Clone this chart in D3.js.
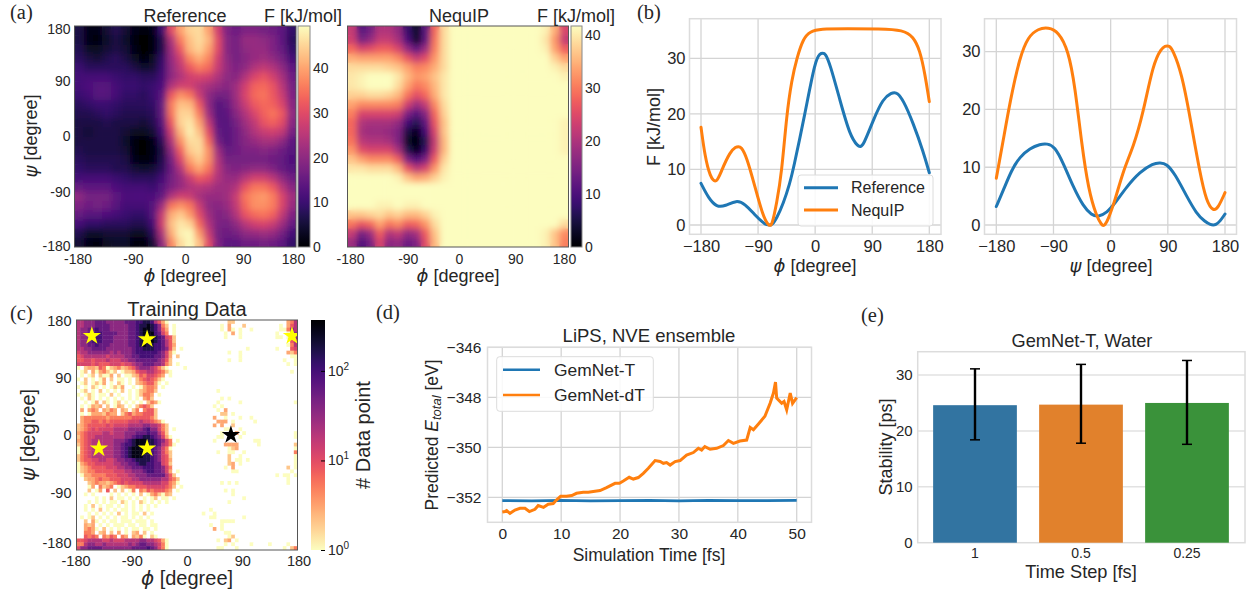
<!DOCTYPE html>
<html>
<head>
<meta charset="utf-8">
<script src="https://cdn.jsdelivr.net/npm/d3@7"></script>
<style>
  html, body { margin: 0; padding: 0; background: #fff; }
  svg { display: block; }
  text { font-family: "Liberation Sans", Arial, sans-serif; fill: #262626; }
  .domain { display: none; }
</style>
</head>
<body>
<div id="chart"></div>
<script>
// ---- data ----

// (a) free energy [kJ/mol], rows from psi = 180 down to -180, columns phi -180 to 180
const referenceF = [
  [6,2,2,5,7,5,2,1,2,10,30,40,45,46,40,28,18,16,18,18,17,16,14,9],
  [6,2,1,4,6,4,1,0,1,7,24,36,43,46,42,30,19,17,21,21,20,18,14,8],
  [7,3,3,5,6,5,2,0,1,7,22,32,42,45,40,30,19,17,20,21,21,18,15,9],
  [8,6,5,7,8,6,3,1,3,9,21,28,37,41,37,28,20,17,19,21,22,20,17,11],
  [10,8,8,8,8,8,6,4,5,10,20,26,32,36,34,27,21,18,20,24,26,24,20,14],
  [11,11,11,11,10,9,9,8,8,11,20,24,28,29,28,24,20,19,24,29,31,28,23,16],
  [11,12,13,13,11,10,10,9,10,12,24,28,28,25,23,21,19,22,28,33,34,31,25,17],
  [10,11,13,13,11,9,9,8,10,14,32,38,35,27,20,17,17,22,29,34,35,32,27,18],
  [8,9,10,10,9,8,8,8,9,15,36,43,42,32,20,13,15,21,27,32,34,33,29,19],
  [7,7,8,9,8,7,7,7,8,15,35,45,45,36,22,13,14,19,24,29,33,35,32,20],
  [6,6,6,7,6,6,6,5,7,13,32,45,47,40,26,14,13,17,22,26,31,33,30,19],
  [6,5,6,6,6,5,3,3,5,11,28,42,48,43,30,15,13,16,20,24,27,28,26,17],
  [6,6,6,6,6,4,1,0,2,8,24,38,46,46,34,17,13,16,19,21,23,23,20,14],
  [7,6,6,6,6,5,1,0,2,6,20,33,44,46,38,22,15,16,18,18,19,18,16,13],
  [8,7,7,7,7,6,2,1,2,7,17,29,40,44,38,24,17,17,17,17,17,16,15,12],
  [9,8,8,8,7,7,5,4,5,8,16,24,35,40,35,25,19,18,19,20,20,18,15,13],
  [11,11,11,11,10,9,8,8,8,11,17,21,27,32,30,24,21,21,25,28,28,25,20,16],
  [15,14,14,14,12,11,11,11,10,13,18,21,24,25,24,22,22,24,31,35,35,32,25,19],
  [20,17,17,17,14,12,12,12,12,15,24,28,27,23,21,21,22,27,35,38,39,36,29,22],
  [18,16,17,16,13,11,11,11,13,22,35,38,35,27,20,19,21,26,34,38,38,36,29,21],
  [15,13,13,12,11,10,9,9,13,27,41,44,39,30,22,18,19,24,31,34,35,33,26,18],
  [11,9,9,8,8,8,7,7,11,28,43,47,45,34,24,18,17,20,25,28,29,27,22,15],
  [7,4,4,5,5,5,3,3,8,24,41,48,49,39,27,17,16,17,20,21,22,21,17,11],
  [5,2,1,3,4,4,1,1,5,20,37,46,49,43,30,18,14,14,16,16,17,16,14,9]
]
const nequipF = [
  [22,11,14,20,20,17,8,3,11,28,38,41,41,41,41,41,41,41,41,41,41,40,34,24],
  [23,14,17,22,22,19,10,3,12,29,38,41,41,41,41,41,41,41,41,41,41,39,32,22],
  [28,24,25,27,27,24,17,12,18,30,38,41,41,41,41,41,41,41,41,41,41,40,33,27],
  [34,33,33,33,33,31,26,22,25,32,38,41,41,41,41,41,41,41,41,41,41,41,37,33],
  [38,38,38,38,37,36,33,30,31,34,38,41,41,41,41,41,41,41,41,41,41,41,40,38],
  [39,40,41,41,41,39,35,32,33,36,39,41,41,41,41,41,41,41,41,41,41,41,41,40],
  [39,40,41,41,41,38,33,29,31,35,39,41,41,41,41,41,41,41,41,41,41,41,41,41],
  [37,37,38,38,37,35,29,25,28,34,39,41,41,41,41,41,41,41,41,41,41,41,41,41],
  [33,31,31,31,31,30,23,18,22,31,38,41,41,41,41,41,41,41,41,41,41,41,41,41],
  [30,24,24,24,24,23,15,11,16,28,37,41,41,41,41,41,41,41,41,41,41,41,41,41],
  [28,20,19,19,19,17,9,6,12,26,36,41,41,41,41,41,41,41,41,41,41,41,41,40],
  [28,19,18,18,17,15,5,2,9,24,36,41,41,41,41,41,41,41,41,41,41,41,41,40],
  [29,21,20,20,19,15,3,0,6,22,35,41,41,41,41,41,41,41,41,41,41,41,41,40],
  [32,25,24,24,24,19,6,2,8,23,35,41,41,41,41,41,41,41,41,41,41,41,41,40],
  [36,33,31,31,31,27,15,10,15,27,37,41,41,41,41,41,41,41,41,41,41,41,41,41],
  [39,39,38,38,38,35,26,21,24,32,39,41,41,41,41,41,41,41,41,41,41,41,41,41],
  [41,41,41,41,41,40,36,33,34,37,40,41,41,41,41,41,41,41,41,41,41,41,41,41],
  [41,41,41,41,41,41,41,41,41,41,41,41,41,41,41,41,41,41,41,41,41,41,41,41],
  [41,41,41,41,41,41,41,41,41,41,41,41,41,41,41,41,41,41,41,41,41,41,41,41],
  [41,41,41,40,40,41,40,40,41,41,41,41,41,41,41,41,41,41,41,41,41,41,41,41],
  [36,36,37,38,36,37,35,35,37,40,41,41,41,41,41,41,41,41,41,41,41,41,41,41],
  [29,26,28,33,29,31,27,28,32,38,41,41,41,41,41,41,41,41,41,41,41,41,41,38],
  [22,14,18,27,20,22,17,19,27,36,41,41,41,41,41,41,41,41,41,41,41,40,36,31],
  [18,10,14,24,16,17,13,15,25,35,41,41,41,41,41,41,41,41,41,41,41,40,36,30]
]
const phiTicks = [-180, -90, 0, 90, 180]
const psiTicks = [180, 90, 0, -90, -180]
const refBarTicks = [0, 10, 20, 30, 40]

// (b) one dimensional profiles
const phiRefX = [-180,-168,-155,-142,-124,-110.6,-95,-82,-76,-72,-68,-60.7,-50,-40,-34.5,-16,0,8,12,16,23.4,39,55,68,71,76,91.7,107,121,125,129,139,154.7,170.5,180]
const phiRefY = [7.5,4.8,3.2,3.4,4.5,3.8,1.8,0.4,0,0,0,1.2,3.9,7.5,10,20,29.7,30.9,30.9,30.9,29,22.5,16,14.1,14.1,14.3,18.9,22.8,23.8,23.8,23.8,22.5,18.3,13.2,9.4]
const phiNeqX = [-180,-173.7,-165.8,-156,-147.4,-134,-125,-121,-117,-108,-95,-82,-74,-71,-68,-60.7,-52.8,-45,-37,-29,-18.7,-8,7.6,49.6,102,139,154.7,165,173,180]
const phiNeqY = [17.6,12.3,8.7,7.3,9.9,13.2,14.1,14.1,14.1,12.3,6.9,1.5,0,-0.1,0,3.9,9.3,19.8,26.1,30,33.6,34.8,35.3,35.3,35.3,35.1,33.9,31.5,27.3,22.2]
const psiRefX = [-180,-169,-156,-143,-127,-111,-100,-88,-74.5,-59,-43,-30,-19.5,-6,7,25,46,67,78,88,101,120,135,148,158,161.5,165,172,180]
const psiRefY = [3.2,6,9.5,11.8,13.3,14,14.1,13.6,10.7,6.6,3.2,1.7,1.4,2.1,3.8,6.6,9.2,10.7,10.8,10.6,8.9,4.9,2,0.6,0,0,0,0.6,1.9]
const psiNeqX = [-180,-169,-158,-143,-130,-114,-98,-82.4,-66.7,-56,-45.7,-35,-22,-14,-11.6,-9,-4,7,20,36,51,67,80,86,89,92,98,111.7,124.8,140.6,151,161.5,169,180]
const psiNeqY = [8.1,14.7,21.6,29.1,32.6,34,34.2,33.5,30.3,23.9,14.1,6.1,1.4,0,-0.1,0,0.9,4.3,9.5,13.6,19.3,28,30.6,31,31,31,30.3,26.3,18.8,8.9,4,2.4,2.9,5.6]
const profileNames = ['Reference', 'NequIP']

// (c) training histogram, one character per 6 degree bin, split in phi < 0 and phi > 0
const countCodes = '.123456789abc'
const countValues = [0, 1, 2, 3, 5, 8, 12, 20, 35, 60, 100, 170, 300]
const trainLeft = [
  '7788899988888999aabba7531.....','7788899998888899abbcba842.1...','78899a9998888899abccba853.1...',
  '78899aa999988899abccca964.1...','7889aaa999888899abcccba9652...','7889aaa999888899abcccba9752...',
  '78899a9998888899abcbbaa9753...','7788999988888889aabbbaa9852.1.','6778888887878889aaaaaa98631...',
  '56777777677778899aaaa99863.2..','55665666766677889999998752....','66665655566656678899988742.1..',
  '1.23325412342345788876421....1','.12.3134212.12235667765421....','.1.12.2113.2.11235466543.1....',
  '1.2.1.13.2.11.1.24565421......','.12.1213.1.21.1.2345531.1.....','1.1.21.1.1213..1.13443.1......',
  '.12.1.2.1.1.2.1.123442........','1.121.11.2.1..1.12443.1.......','.1.21.1.1.1.1.1.1.342.........',
  '..1.13.21.12.1.1.1.2431.......','.1.1323.2.132.1.24542.........','.3.343.3243.32.24.4552........',
  '.1.13332433.2453445552........','.344444434444445555542........','.34455454555556667665431......',
  '2345555565666677778877642.....','2345656666777788889a88642.1...','3456666776777888999a99752.....',
  '2456677777777889aabba98631....','34567777778889abcccbba9864.1..','2456777777889aabcccbba97641...',
  '1456777777889abccccba98641....','1456777777889abccccba98642....','2456777777889abcccbba98652....',
  '245566776678899abbbba98653....','1345566666778899abbaa99652....','123455556667788999aaa99864....',
  '1234455555666778889aa99863.1..','.13344445556667788899999752...','..23345445556667788888877542..',
  '...2343323456566667777766431..','...13.4234.1234455566666542.1.','...2.13.5.2.2.14.435455543.1..',
  '..1.1....1.1.1.1.2.1342132....','.....1.1.2.11.1.1.1.12.11.1...','...1.1.1.11.21.1.21.1.1.1.....',
  '..1.2.1.11.1.1.1.1.1.1........','..1.1.2.1.1.11.1.1.1..........','...1.1.1.1.2.1.11.2.1.........',
  '.1.12.1.1.1.11.1.1.1..........','..2.31.1.11.111.111.1.........','..323.1.1.111.11.11.11........',
  '..3431.2.1.1.1.11.11.1........','..443.23.2.3.1.23.2.1.........','..5454.4354.43.3241.21........',
  '5567777667666777788776531.....','4478877877777787899887641.....','6889999888888889999a98641.....'
]
const trainRight = [
  '...........22..............347','.........1.3...2.........1.357','.........1.31.1..1.......11487',
  '..........1.3.1.........1..188','..........1...1.........11.188','............................57',
  '...........................147','................1.......1...56','...........1..1............324',
  '..............1.............11','...........1..1...........1..1','...........................1.1',
  '..............................','............................1.','..............................',
  '..............................','..............................','..............................',
  '........1.....................','..............................','.........1.1..................',
  '........1.....1..............1','.......1.1....................','........1.3...................',
  '.........22.1.................','.......3..1...1..1............','........333.1.....1...........',
  '.......3.3..2.................','..........11..1...............','.........1...3.1.............1',
  '........11....1..............1','.......1..........11..........','..........3333.....1.........2',
  '...........123...............1','........1..11..1.............4','...........2..1..............1',
  '...........2.11.1............1','...........23.1..............1','..........1.3..............2.1',
  '............11..............1.','........................1.11.1','...........................1..',
  '.........1.1.1.............1..','..............................','..........1.1.................',
  '............1.................','...............1..............','...........1..................',
  '..............................','......1.......................','....1..1......................',
  '......11.......1..............','.........1111.................','......1..1....................',
  '.......3.1....................','..........11..................','...........12.................',
  '........1.23.1................','..........1.1....1....1....1..','........11...1............1.24'
]
const starPhi = [-155, -65, 171, -143.5, -65, 71.5]
const starPsi = [155, 150, 155, -21, -21, 0]
const starFill = ['#ffff00', '#ffff00', '#ffff00', '#ffff00', '#ffff00', '#000000']

// (d) total energy during the simulation
const dtTime = [0,0.45,0.74,1.3,2.15,3,3.85,4.6,5.55,6.1,7,7.8,8.65,9.2,9.9,10.9,11.8,12.6,13.75,14.6,15.45,16.6,17.7,19.15,19.9,20.55,21.55,22.25,23.1,23.95,24.8,25.95,26.8,27.35,27.9,28.5,29.35,30.2,31.3,32.45,33.3,33.85,34.4,35.3,36.4,37.55,38.4,39.25,40.35,41.5,42.1,42.65,43.5,44.6,45.5,46.05,46.4,46.6,47.45,47.85,48.3,48.9,49.3,50]
const dtEnergy = [-352.59,-352.57,-352.53,-352.64,-352.51,-352.44,-352.44,-352.57,-352.48,-352.33,-352.4,-352.28,-352.25,-352.11,-351.96,-351.96,-351.93,-351.84,-351.8,-351.8,-351.77,-351.73,-351.61,-351.44,-351.44,-351.35,-351.2,-351.27,-351.21,-351.04,-350.84,-350.53,-350.57,-350.64,-350.61,-350.71,-350.57,-350.53,-350.31,-350.21,-350.04,-350.11,-349.97,-350.08,-350.04,-349.93,-349.73,-349.84,-349.75,-349.71,-349.21,-349.3,-349.07,-348.76,-348.23,-347.83,-347.39,-348.03,-348.24,-348.17,-348.5,-347.83,-348.24,-348.01]
const tTime = [0,5,10,15,20,25,30,35,40,45,50]
const tEnergy = [-352.13,-352.14,-352.12,-352.14,-352.13,-352.12,-352.14,-352.12,-352.13,-352.13,-352.12]
const timeTicks = [0, 10, 20, 30, 40, 50]
const energyTicks = [-346, -348, -350, -352]
const energyNames = ['GemNet-T', 'GemNet-dT']

// (e) stability against time step
const stepNames = ['1', '0.5', '0.25']
const stability = [24.6, 24.7, 25]
const stabilityLow = [18.4, 17.8, 17.6]
const stabilityHigh = [31.1, 31.9, 32.6]
const barColors = ['#3274a1', '#e1812c', '#3a923a']

const blue = '#1f77b4'
const orange = '#ff7f0e'
const gridColor = '#d4d4d4'

const svg = d3.select('#chart').append('svg').attr('width', 1250).attr('height', 595)
const defs = svg.append('defs')

// the heat maps are a bit soft in the original
defs.append('filter').attr('id', 'soft')
  .attr('x', '-5%').attr('y', '-5%').attr('width', '110%').attr('height', '110%')
  .append('feGaussianBlur').attr('stdDeviation', 3.4)

const phiLabel = '<tspan font-family="DejaVu Sans" font-style="italic">ϕ</tspan> [degree]'
const psiLabel = '<tspan font-family="DejaVu Sans" font-style="italic">ψ</tspan> [degree]'
const signed = d => d3.format('d')(d).replace('−', '-')  // panels a and c use a plain hyphen

function label(x, y, html, size, anchor) {
  return svg.append('text').attr('x', x).attr('y', y)
    .attr('font-size', size).attr('text-anchor', anchor || 'middle').html(html)
}

function vlabel(x, y, html, size) {
  return svg.append('text').attr('transform', `translate(${x},${y}) rotate(-90)`)
    .attr('font-size', size).attr('text-anchor', 'middle').html(html)
}

function panelLabel(x, y, s) {
  label(x, y, s, 20.5, 'start').style('font-family', '"Liberation Serif", serif')
}

// ticks without marks, text color and size in one place
function styleAxis(g, size, keepTicks) {
  g.attr('font-family', null).attr('font-size', null)
  g.selectAll('text').attr('font-size', size).attr('fill', '#262626')
  if (!keepTicks) g.selectAll('.tick line').remove()
}

function drawFrame(left, right, top, bottom, color, width) {
  svg.append('rect').attr('x', left).attr('y', top)
    .attr('width', right - left).attr('height', bottom - top)
    .attr('fill', 'none').attr('stroke', color).attr('stroke-width', width)
}

function colorGradient(id, interp) {
  const grad = defs.append('linearGradient').attr('id', id)
    .attr('x1', 0).attr('x2', 0).attr('y1', 1).attr('y2', 0)
  grad.selectAll('stop').data(d3.range(0, 1.001, 0.02)).enter().append('stop')
    .attr('offset', d => d).attr('stop-color', d => interp(d))
}

function drawHeat(name, rows, color, left, right, top, bottom, soft) {
  const nx = rows[0].length
  const xCell = d3.scaleBand().domain(d3.range(nx)).range([left, right])
  const yCell = d3.scaleBand().domain(d3.range(rows.length)).range([top, bottom])
  const cells = []
  rows.forEach((row, r) => { for (let c = 0; c < nx; c++) cells.push({ r: r, c: c, v: row[c] }) })

  defs.append('clipPath').attr('id', 'clip-' + name).append('rect')
    .attr('x', left).attr('y', top).attr('width', right - left).attr('height', bottom - top)

  const holder = svg.append('g').attr('clip-path', `url(#clip-${name})`)
  const layers = soft ? [holder.append('g'), holder.append('g').attr('filter', 'url(#soft)')] : [holder.append('g')]
  layers.forEach(layer => {
    layer.selectAll('rect').data(cells).enter().append('rect')
      .attr('x', d => xCell(d.c)).attr('y', d => yCell(d.r))
      .attr('width', xCell.bandwidth() + 0.4).attr('height', yCell.bandwidth() + 0.4)
      .attr('fill', d => color(d.v))
  })
  return holder
}

// the tick labels sit slightly off their ticks in the original, xShift and yShift hold the offset
function xHeatAxis(left, right, bottom, size, gap, xShift) {
  const x = d3.scaleLinear().domain([-180, 180]).range([left, right])
  const xa = svg.append('g').attr('transform', `translate(0,${bottom})`)
    .call(d3.axisBottom(x).tickValues(phiTicks).tickFormat(signed).tickSize(0).tickPadding(gap))
  styleAxis(xa, size)
  xa.selectAll('.tick text').attr('transform', (d, i) => `translate(${xShift[i]},0)`)
  return x
}

function yHeatAxis(left, top, bottom, size, gap, yShift) {
  const y = d3.scaleLinear().domain([-180, 180]).range([bottom, top])
  const ya = svg.append('g').attr('transform', `translate(${left},0)`)
    .call(d3.axisLeft(y).tickValues(psiTicks).tickFormat(signed).tickSize(0).tickPadding(gap))
  styleAxis(ya, size)
  ya.selectAll('.tick text').attr('transform', (d, i) => `translate(0,${yShift[i]})`)
  return y
}

// (a) ---------------------------------------------------------------
function panelA() {
  const refColor = d3.scaleSequential(d3.interpolateMagma).domain([0, 49.5])
  drawHeat('ref', referenceF, refColor, 74.5, 296, 26, 247, true)
  xHeatAxis(74.5, 296, 247, 14, 7, [3, 3, 0, 2.5, -3])
  yHeatAxis(74.5, 26, 247, 14, 4, [3, 0, 0, 0, -1])
  drawFrame(74.5, 296, 26, 247, '#555', 1)

  const neqColor = d3.scaleSequential(d3.interpolateMagma).domain([0, 41])
  drawHeat('neq', nequipF, neqColor, 347.5, 568.5, 26, 247, true)
  xHeatAxis(347.5, 568.5, 247, 14, 7, [2.5, 5, 1, 2, -4.5])
  drawFrame(347.5, 568.5, 26, 247, '#555', 1)

  colorGradient('magma', d3.interpolateMagma)
  const bars = [
    { left: 298, right: 310, max: 49.5 },
    { left: 571, right: 582, max: 41.7 }
  ]
  bars.forEach(b => {
    svg.append('rect').attr('x', b.left).attr('y', 26).attr('width', b.right - b.left).attr('height', 221)
      .attr('fill', 'url(#magma)').attr('stroke', '#888').attr('stroke-width', 1)
    const s = d3.scaleLinear().domain([0, b.max]).range([247, 26])
    const ax = svg.append('g').attr('transform', `translate(${b.right},0)`)
      .call(d3.axisRight(s).tickValues(refBarTicks).tickSize(0).tickPadding(3))
    styleAxis(ax, 14)
  })

  label(185, 22, 'Reference', 18)
  label(264, 22, 'F [kJ/mol]', 18, 'start')
  label(459, 22, 'NequIP', 18)
  label(537, 22, 'F [kJ/mol]', 18, 'start')
  label(185, 282, phiLabel, 18)
  label(458, 282, phiLabel, 18)
  vlabel(37, 136, psiLabel, 18)
  panelLabel(10, 18.5, '(a)')
}

// (b) ---------------------------------------------------------------
function profile(xs, ys, xScale, yScale, color, group) {
  const line = d3.line().x(d => xScale(d[0])).y(d => yScale(d[1])).curve(d3.curveBasis)
  group.append('path').datum(d3.zip(xs, ys))
    .attr('d', line).attr('fill', 'none').attr('stroke', color)
    .attr('stroke-width', 3).attr('stroke-linecap', 'round')
}

function lineAxes(left, right, top, bottom, x, y, xTicks, yTicks, size, gapX, gapY) {
  const grid = svg.append('g')
  grid.selectAll('.gx').data(xTicks).enter().append('line').attr('class', 'gx')
    .attr('x1', d => x(d)).attr('x2', d => x(d)).attr('y1', top).attr('y2', bottom)
    .attr('stroke', gridColor).attr('stroke-width', 1.3)
  grid.selectAll('.gy').data(yTicks).enter().append('line').attr('class', 'gy')
    .attr('x1', left).attr('x2', right).attr('y1', d => y(d)).attr('y2', d => y(d))
    .attr('stroke', gridColor).attr('stroke-width', 1.3)
  drawFrame(left, right, top, bottom, '#dcdcdc', 1.5)
  const xa = svg.append('g').attr('transform', `translate(0,${bottom})`)
    .call(d3.axisBottom(x).tickValues(xTicks).tickFormat(d3.format('d')).tickSize(0).tickPadding(gapX))
  styleAxis(xa, size)
  const ya = svg.append('g').attr('transform', `translate(${left},0)`)
    .call(d3.axisLeft(y).tickValues(yTicks).tickFormat(d3.format('d')).tickSize(0).tickPadding(gapY))
  styleAxis(ya, size)
}

function panelB() {
  const x1 = d3.scaleLinear().domain([-180, 180]).range([701, 929.3])
  const y1 = d3.scaleLinear().domain([0, 30]).range([225, 58.3])
  lineAxes(689.5, 941, 18.7, 234.3, x1, y1, phiTicks, [0, 10, 20, 30], 16.5, 6, 4)
  const g1 = svg.append('g')
  profile(phiRefX, phiRefY, x1, y1, blue, g1)
  profile(phiNeqX, phiNeqY, x1, y1, orange, g1)

  const x2 = d3.scaleLinear().domain([-180, 180]).range([996.3, 1225])
  const y2 = d3.scaleLinear().domain([0, 30]).range([225, 51.7])
  lineAxes(984.5, 1236.5, 18.7, 234.3, x2, y2, phiTicks, [0, 10, 20, 30], 16.5, 6, 4)
  const g2 = svg.append('g')
  profile(psiRefX, psiRefY, x2, y2, blue, g2)
  profile(psiNeqX, psiNeqY, x2, y2, orange, g2)

  // legend
  svg.append('rect').attr('x', 798).attr('y', 175).attr('width', 135).attr('height', 51).attr('rx', 3)
    .attr('fill', '#fff').attr('fill-opacity', 0.85).attr('stroke', '#dcdcdc')
  profileNames.forEach((name, i) => {
    const ly = 187.7 + i * 22.3
    svg.append('line').attr('x1', 804).attr('x2', 838).attr('y1', ly).attr('y2', ly)
      .attr('stroke', i ? orange : blue).attr('stroke-width', 3)
    label(851, ly + 5.5, name, 16, 'start')
  })

  label(815, 272, phiLabel, 18)
  label(1111, 272, psiLabel, 18)
  vlabel(660, 127, 'F [kJ/mol]', 18)
  panelLabel(637, 18.5, '(b)')
}

// (c) ---------------------------------------------------------------
function panelC() {
  const toCount = (l, r) => Array.from(l + r).map(ch => countValues[countCodes.indexOf(ch)])
  const rows = trainLeft.map((l, i) => toCount(l, trainRight[i]))
  const color = d3.scaleSequentialLog(t => d3.interpolateMagma(1 - t)).domain([1, 370])
  const holder = drawHeat('train', rows, v => v === 0 ? '#fff' : color(v), 76.5, 297.5, 320, 550, false)

  const x = xHeatAxis(76.5, 297.5, 550, 14.5, 6, [-1, 0, 0, 0, 1])
  const y = yHeatAxis(76.5, 320, 550, 14.5, 5, [1, 0, 0, 0, -7])
  drawFrame(76.5, 297.5, 320, 550, '#555', 1)

  holder.selectAll('.star').data(d3.zip(starPhi, starPsi, starFill)).enter().append('path')
    .attr('class', 'star')
    .attr('d', d3.symbol().type(d3.symbolStar).size(105))
    .attr('transform', d => `translate(${x(d[0])},${y(d[1])})`)
    .attr('fill', d => d[2])

  colorGradient('magmaR', t => d3.interpolateMagma(1 - t))
  svg.append('rect').attr('x', 311).attr('y', 320).attr('width', 14).attr('height', 230)
    .attr('fill', 'url(#magmaR)')
  const s = d3.scaleLog().domain([1, 370]).range([550, 320])
  const ax = svg.append('g').attr('transform', 'translate(325,0)')
    .call(d3.axisRight(s).tickValues([1, 10, 100]).tickSize(-4).tickPadding(3)
      .tickFormat(d => d))
  ax.selectAll('.tick line').attr('stroke', '#000').attr('stroke-width', 1)
  ax.selectAll('.tick text').attr('x', 3)
    .html(d => `10<tspan dy="-6" font-size="10">${Math.round(Math.log10(d))}</tspan>`)
  styleAxis(ax, 14, true)
  ax.selectAll('.tick text tspan').attr('font-size', 10)

  label(187, 316, 'Training Data', 20)
  label(187, 585, phiLabel, 20)
  vlabel(35, 435, psiLabel, 20)
  vlabel(370, 435, '# Data point', 20)
  panelLabel(10, 320, '(c)')
}

// (d) ---------------------------------------------------------------
function panelD() {
  const x = d3.scaleLinear().domain([0, 50]).range([502.3, 796.7])
  const y = d3.scaleLinear().domain([-352, -346]).range([497.3, 347.3])
  lineAxes(487.5, 811.5, 347.3, 522.3, x, y, timeTicks, energyTicks, 15.5, 6, 6)
  const line = d3.line().x(d => x(d[0])).y(d => y(d[1]))
  svg.append('path').datum(d3.zip(tTime, tEnergy)).attr('d', line)
    .attr('fill', 'none').attr('stroke', blue).attr('stroke-width', 2.8)
  svg.append('path').datum(d3.zip(dtTime, dtEnergy)).attr('d', line)
    .attr('fill', 'none').attr('stroke', orange).attr('stroke-width', 3)

  svg.append('rect').attr('x', 496.7).attr('y', 356.7).attr('width', 156.6).attr('height', 54.6).attr('rx', 3)
    .attr('fill', '#fff').attr('fill-opacity', 0.85).attr('stroke', '#dcdcdc')
  energyNames.forEach((name, i) => {
    const ly = 369.7 + i * 25.3
    svg.append('line').attr('x1', 503).attr('x2', 540).attr('y1', ly).attr('y2', ly)
      .attr('stroke', i ? orange : blue).attr('stroke-width', 2.6)
    label(554, ly + 6, name, 17.4, 'start')
  })

  label(649, 342, 'LiPS, NVE ensemble', 18.5)
  label(649, 561, 'Simulation Time [fs]', 17.5)
  vlabel(438, 435, 'Predicted <tspan font-style="italic">E</tspan><tspan font-style="italic" font-size="13" dy="3">total</tspan><tspan dy="-3"> [eV]</tspan>', 17.5)
  panelLabel(376, 319, '(d)')
}

// (e) ---------------------------------------------------------------
function panelE() {
  const x = d3.scaleBand().domain(stepNames).range([922, 1240]).paddingInner(0.21).paddingOuter(0.105)
  const y = d3.scaleLinear().domain([0, 30]).range([542.7, 375])
  const left = 917.7, right = 1245, top = 351.7, bottom = 542.7

  svg.selectAll('.grid-e').data([10, 20, 30]).enter().append('line').attr('class', 'grid-e')
    .attr('x1', left).attr('x2', right).attr('y1', d => y(d)).attr('y2', d => y(d))
    .attr('stroke', '#e2e2e2').attr('stroke-width', 1.5)
  drawFrame(left, right, top, bottom, '#dcdcdc', 1.5)

  svg.selectAll('.bar').data(stepNames).enter().append('rect').attr('class', 'bar')
    .attr('x', d => x(d)).attr('width', x.bandwidth())
    .attr('y', (d, i) => y(stability[i])).attr('height', (d, i) => y(0) - y(stability[i]))
    .attr('fill', (d, i) => barColors[i])

  const cx = d => x(d) + x.bandwidth() / 2
  svg.selectAll('.err').data(stepNames).enter().append('line').attr('class', 'err')
    .attr('x1', cx).attr('x2', cx)
    .attr('y1', (d, i) => y(stabilityLow[i])).attr('y2', (d, i) => y(stabilityHigh[i]))
    .attr('stroke', '#000').attr('stroke-width', 2.4)
  stepNames.forEach((d, i) => {
    [stabilityLow[i], stabilityHigh[i]].forEach(v => {
      svg.append('line').attr('x1', cx(d) - 5).attr('x2', cx(d) + 5).attr('y1', y(v)).attr('y2', y(v))
        .attr('stroke', '#000').attr('stroke-width', 1.5)
    })
  })

  const xa = svg.append('g').attr('transform', `translate(0,${bottom})`)
    .call(d3.axisBottom(x).tickSize(0).tickPadding(5))
  styleAxis(xa, 14)
  const ya = svg.append('g').attr('transform', `translate(${left},0)`)
    .call(d3.axisLeft(y).tickValues([0, 10, 20, 30]).tickSize(0).tickPadding(5))
  styleAxis(ya, 15)

  label(1082, 347, 'GemNet-T, Water', 18.2)
  label(1081, 578, 'Time Step [fs]', 18.2)
  vlabel(892, 447, 'Stability [ps]', 18)
  panelLabel(861, 322, '(e)')
}

panelA()
panelB()
panelC()
panelD()
panelE()
</script>
</body>
</html>
